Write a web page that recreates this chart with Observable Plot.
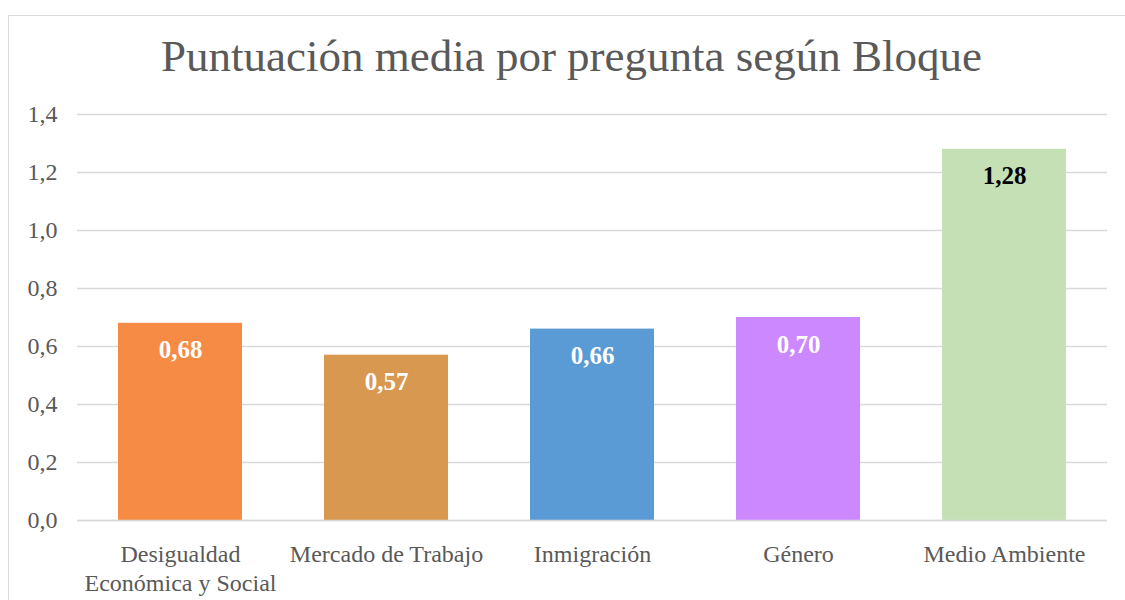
<!DOCTYPE html>
<html>
<head>
<meta charset="utf-8">
<script src="https://cdn.jsdelivr.net/npm/d3@7"></script>
<script src="https://cdn.jsdelivr.net/npm/@observablehq/plot@0.6"></script>
<style>
  html, body { margin: 0; padding: 0; background: #fff; overflow: hidden; }
  #wrap { position: relative; width: 1125px; height: 600px; overflow: hidden; }
  #frame { position: absolute; left: 8px; top: 15px; width: 1200px; height: 700px; border: 1.5px solid #d9d9d9; box-sizing: border-box; }
  #title { position: absolute; left: 0; width: 1143px; top: 34px; text-align: center; font-family: "Liberation Serif", serif; font-size: 45px; color: #595959; line-height: 1; }
  #chart { position: absolute; left: 0; top: 0; }
</style>
</head>
<body>
<div id="wrap">
  <div id="frame"></div>
  <div id="title">Puntuación media por pregunta según Bloque</div>
  <div id="chart"></div>
</div>
<script>
const categories = ["Desigualdad\nEconómica y Social", "Mercado de Trabajo", "Inmigración", "Género", "Medio Ambiente"];
const values = [0.68, 0.57, 0.66, 0.70, 1.28];
const barColors = ["#F58B45", "#D9984F", "#5B9BD5", "#CC88FF", "#C5E0B4"];
const labelColors = ["#ffffff", "#ffffff", "#ffffff", "#ffffff", "#000000"];
const yTicks = [0, 0.2, 0.4, 0.6, 0.8, 1.0, 1.2, 1.4];

const data = categories.map((c, i) => ({cat: c, value: values[i], color: barColors[i], lc: labelColors[i]}));
const fmt = d => d.toFixed(1).replace(".", ",");
const fmt2 = d => d.toFixed(2).replace(".", ",");

const chart = Plot.plot({
  width: 1125,
  height: 600,
  marginTop: 114,
  marginBottom: 80,
  marginLeft: 77,
  marginRight: 18,
  style: {fontFamily: "'Liberation Serif', serif", background: "transparent"},
  x: {domain: categories, paddingInner: 0.4, paddingOuter: 0.2},
  y: {domain: [0, 1.4]},
  marks: [
    Plot.gridY(yTicks, {stroke: "#d9d9d9", strokeOpacity: 1, strokeWidth: 1.5}),
    Plot.barY(data, {x: "cat", y: "value", fill: "color"}),
    Plot.text(data, {x: "cat", y: "value", text: d => fmt2(d.value), dy: 27, fill: "lc", fontWeight: "bold", fontSize: 25, lineAnchor: "middle"}),
    Plot.axisY(yTicks, {tickSize: 0, tickPadding: 20, tickFormat: fmt, fontSize: 24, fill: "#595959", label: null}),
    Plot.axisX({tickSize: 0, tickPadding: 22, fontSize: 24, lineHeight: 1.17, fill: "#595959", label: null}),
    Plot.ruleY([0], {stroke: "#d9d9d9", strokeWidth: 1.5})
  ]
});
document.getElementById("chart").appendChild(chart);
</script>
</body>
</html>
